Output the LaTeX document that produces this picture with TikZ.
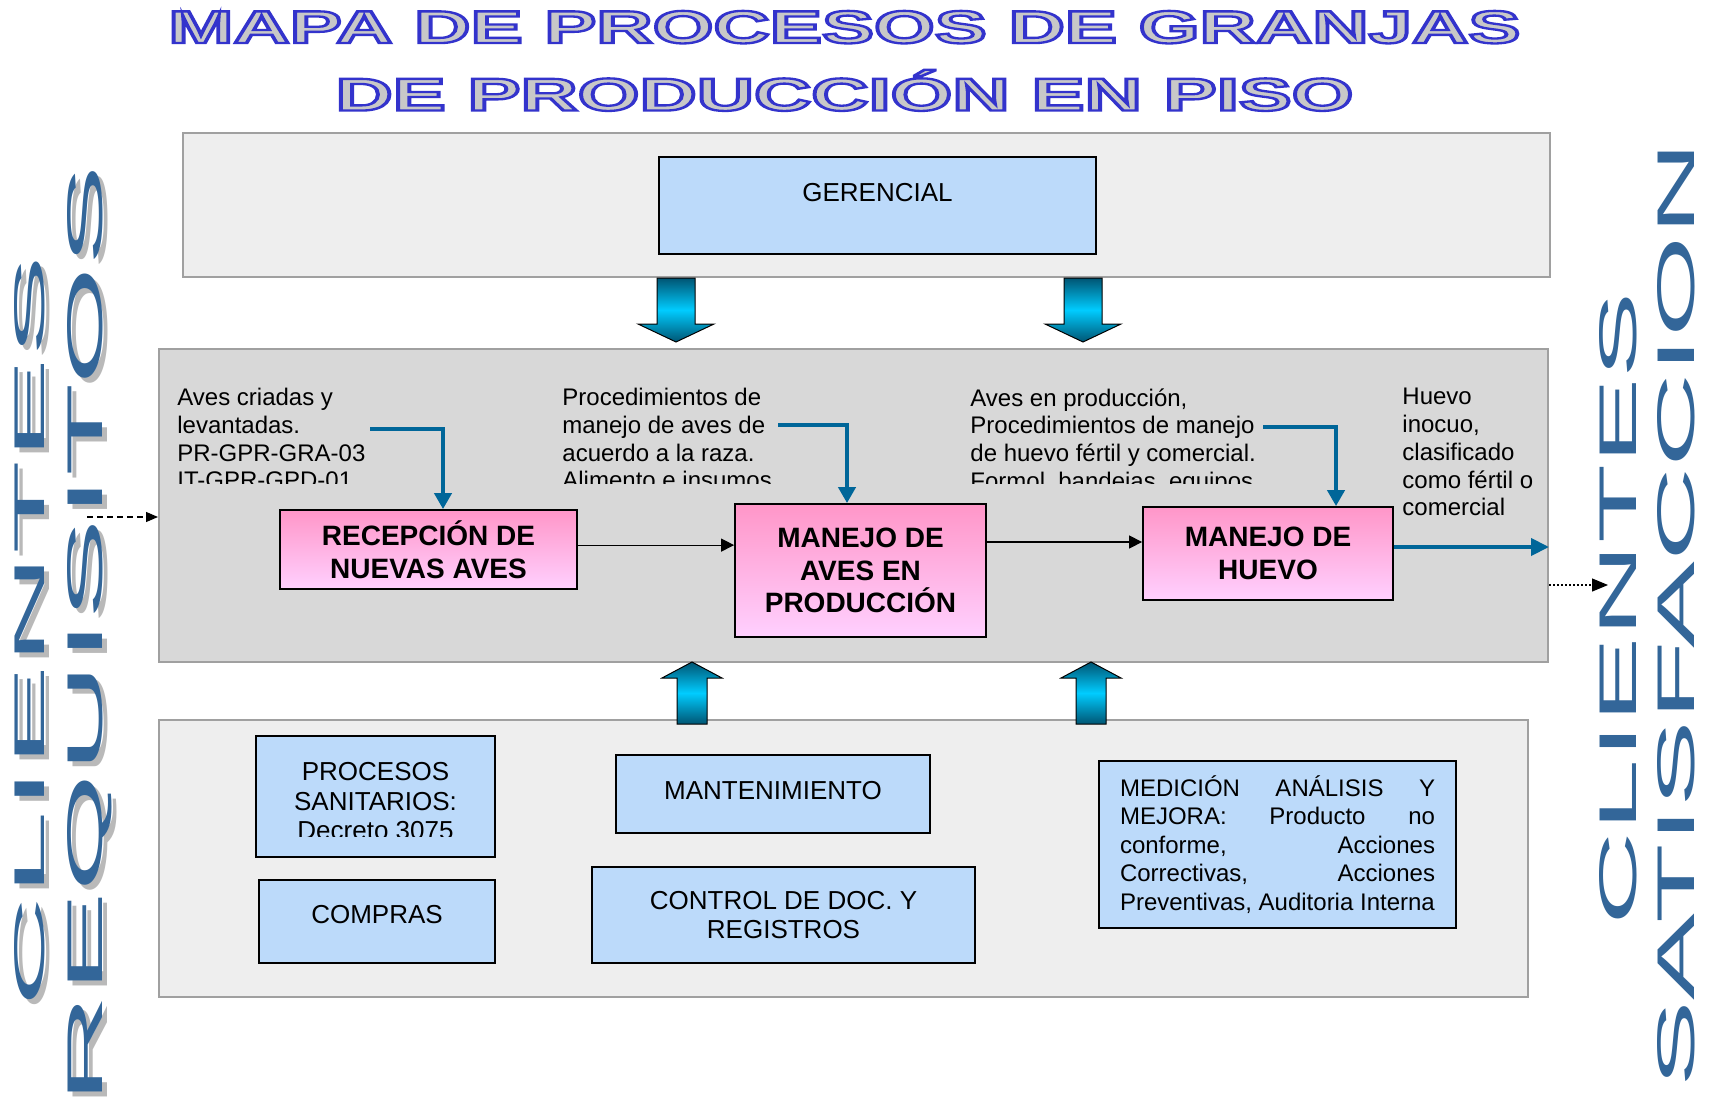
\documentclass[tikz,border=0pt]{standalone}
\usepackage{fontspec}
\setmainfont{Liberation Sans}
\newfontfamily\titlefont{Liberation Sans}[BoldFeatures={FakeBold=5}]
\usepackage{graphicx}
\usetikzlibrary{arrows.meta}

\definecolor{panelline}{RGB}{160,160,160}
\definecolor{panellight}{RGB}{238,238,238}
\definecolor{panelmid}{RGB}{216,216,216}
\definecolor{boxblue}{RGB}{188,218,250}
\definecolor{pinktop}{RGB}{255,150,200}
\definecolor{pinkbot}{RGB}{255,208,255}
\definecolor{feedblue}{RGB}{0,102,153}
\definecolor{arrowdark}{RGB}{0,85,115}
\definecolor{arrowcyan}{RGB}{0,204,255}
\definecolor{sideblue}{RGB}{51,102,153}
\definecolor{shadowgray}{RGB}{185,185,185}
\definecolor{titlefill}{RGB}{200,200,200}

\newcommand{\titlerow}[2]{\special{pdf:literal direct 0.2 0.2 0.8 RG}\resizebox{#1}{\height}{#2}}

\tikzset{
  panel/.style={draw=panelline, line width=1pt, inner sep=0pt},
  bluebox/.style={draw=black, line width=0.7pt, fill=boxblue, inner sep=0pt, align=center,
    font=\fontsize{13pt}{14.6pt}\selectfont},
  pinkbox/.style={draw=black, line width=0.9pt, top color=pinktop, bottom color=pinkbot,
    inner sep=0pt, align=center, font=\fontsize{14pt}{16.3pt}\selectfont\bfseries},
  note/.style={inner sep=0pt, anchor=north west, align=left, font=\fontsize{12pt}{13.85pt}\selectfont},
  feed/.style={draw=feedblue, line width=2pt, -{Triangle[length=8pt,width=8.5pt]}},
  flow/.style={draw=black, line width=0.6pt, -{Triangle[length=6.5pt,width=6.5pt]}},
  blockarrow/.style={draw=black, line width=0.5pt, top color=arrowdark, bottom color=arrowdark,
    middle color=arrowcyan},
  sidetext/.style={inner sep=0pt, rotate=90, text=sideblue},
  titletext/.style={inner sep=0pt, anchor=base, text=titlefill, font=\titlefont\bfseries\fontsize{23pt}{26pt}\selectfont}
}

\begin{document}
\begin{tikzpicture}[x=0.5pt,y=-0.5pt]
\fill[white] (0,0) rectangle (1711,1118);
\useasboundingbox (0,0) rectangle (1711,1118);

\node[titletext] (title1) at (844.5,43) {\titlerow{676pt}{MAPA DE PROCESOS DE GRANJAS}};
\node[titletext] (title2) at (844.5,110.5) {\titlerow{509pt}{DE PRODUCCIÓN EN PISO}};

\node[panel, fill=panellight, minimum width=683.5pt, minimum height=72pt] (gerpanel) at (866.5,205) {};
\node[panel, fill=panelmid, minimum width=694.5pt, minimum height=156.5pt] (oppanel) at (853.5,505.5) {};
\node[panel, fill=panellight, minimum width=684.5pt, minimum height=138.5pt] (suppanel) at (843.5,858.5) {};

\shadedraw[blockarrow] (657,278) -- (695,278) -- (695,324) -- (714,324) -- (676,342) -- (638,324) -- (657,324) -- cycle;
\shadedraw[blockarrow] (1064,278) -- (1102,278) -- (1102,324) -- (1121,324) -- (1083,342) -- (1045,324) -- (1064,324) -- cycle;
\shadedraw[blockarrow] (677,724) -- (707,724) -- (707,678) -- (722,678) -- (692,662) -- (662,678) -- (677,678) -- cycle;
\shadedraw[blockarrow] (1076,724) -- (1106,724) -- (1106,678) -- (1121,678) -- (1091,662) -- (1061,678) -- (1076,678) -- cycle;

\node[bluebox, minimum width=218.5pt, minimum height=48.5pt, text height=9.3pt, text depth=13.5pt] (geren) at (877.5,205.5) {GERENCIAL};

\begin{scope}
  \clip (160,350) rectangle (1390,483);
  \node[note] (birdsin) at (177,388) {Aves criadas y\\levantadas.\\PR-GPR-GRA-03\\IT-GPR-GPD-01};
  \node[note] (breedin) at (562,388) {Procedimientos de\\manejo de aves de\\acuerdo a la raza.\\Alimento e insumos};
  \node[note] (eggin) at (970,388) {Aves en producción,\\Procedimientos de manejo\\de huevo fértil y comercial.\\Formol, bandejas, equipos};
\end{scope}
\node[note] (eggout) at (1402,388) {Huevo\\inocuo,\\clasificado\\como fértil o\\comercial};

\node[pinkbox, minimum width=148.5pt, minimum height=39.5pt] (recep) at (428.5,549.5) {RECEPCIÓN DE\\NUEVAS AVES};
\node[pinkbox, minimum width=125.5pt, minimum height=66.5pt] (aves) at (860.5,570.5) {MANEJO DE\\AVES EN\\PRODUCCIÓN};
\node[pinkbox, minimum width=125pt, minimum height=46.5pt] (huevo) at (1268,553.5) {MANEJO DE\\HUEVO};

\coordinate (birdsfeed) at (370,429);
\coordinate (breedfeed) at (778,425);
\coordinate (eggfeed) at (1263,427);
\draw[feed] (birdsfeed) -| ([xshift=7.25pt]recep.north);
\draw[feed] (breedfeed) -| ([xshift=-6.75pt]aves.north);
\draw[feed] (eggfeed) -| ([xshift=34pt]huevo.north);

\draw[flow] ([yshift=2.2pt]recep.east) -- ([yshift=2.2pt]recep.east -| aves.west);
\draw[flow] ([yshift=5.75pt]huevo.west -| aves.east) -- ([yshift=5.75pt]huevo.west);
\draw[feed, -{Triangle[length=9pt,width=8.5pt]}] ([yshift=3.25pt]huevo.east) -- ([yshift=3.25pt]huevo.east -| oppanel.east);

\node[bluebox, minimum width=119.5pt, minimum height=60.5pt] (procsan) at (375.5,796.5) {};
\begin{scope}
  \clip (256,740) rectangle (495,836);
  \node[bluebox, draw=none, fill=none, anchor=north] (procsantxt) at (375.5,762) {PROCESOS\\SANITARIOS:\\Decreto 3075};
\end{scope}
\node[bluebox, minimum width=118pt, minimum height=41.5pt, text height=9.3pt, text depth=7.5pt] (compras) at (377,921.5) {COMPRAS};
\node[bluebox, minimum width=157pt, minimum height=39pt, text height=9.3pt, text depth=4pt] (mant) at (773,794) {MANTENIMIENTO};
\node[bluebox, minimum width=191.5pt, minimum height=48pt] (control) at (783.5,915) {CONTROL DE DOC. Y\\REGISTROS};
\node[bluebox, minimum width=178.5pt, minimum height=83.5pt, align=left, font=\fontsize{12pt}{14.2pt}\selectfont] (medicion) at (1277.5,844.5)
  {\makebox[157.5pt][s]{MEDICIÓN ANÁLISIS Y}\\\makebox[157.5pt][s]{MEJORA: Producto no}\\\makebox[157.5pt][s]{conforme, Acciones}\\\makebox[157.5pt][s]{Correctivas, Acciones}\\Preventivas, Auditoria Interna};

\node[sidetext, text=shadowgray] (clishadow) at (35,636) {\resizebox{376pt}{15pt}{CLIENTES}};
\node[sidetext] (clientsin) at (30,631) {\resizebox{376pt}{15pt}{CLIENTES}};
\node[sidetext, text=shadowgray] (reqshadow) at (94.5,639.5) {\resizebox{469.5pt}{17.5pt}{REQUISITOS}};
\node[sidetext] (reqin) at (89.5,634.5) {\resizebox{469.5pt}{17.5pt}{REQUISITOS}};
\node[sidetext] (clientsout) at (1618.5,608.5) {\resizebox{316.5pt}{18.5pt}{CLIENTES}};
\node[sidetext] (satisf) at (1676.5,614.5) {\resizebox{472.5pt}{18.5pt}{SATISFACCION}};

\coordinate (reqstart) at (87,517);
\coordinate (satend) at (1608,585);
\draw[line width=0.6pt, dash pattern=on 3pt off 2pt, -{Triangle[length=6pt,width=5pt]}] (reqstart) -- (reqstart -| oppanel.west);
\draw[line width=0.6pt, dash pattern=on 1pt off 1pt, -{Triangle[length=8pt,width=6.5pt]}] (satend -| oppanel.east) -- (satend);
\end{tikzpicture}
\end{document}
